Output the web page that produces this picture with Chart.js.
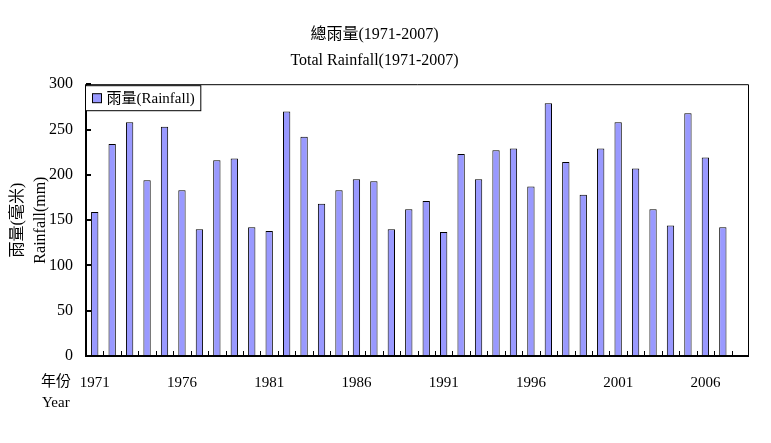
<!DOCTYPE html>
<html>
<head>
<meta charset="utf-8">
<script src="https://cdn.jsdelivr.net/npm/chart.js@4"></script>
<style>
  body { margin: 0; background: #fff; }
  #wrap { width: 771px; height: 443px; }
</style>
</head>
<body>
<div id="wrap"><canvas id="rainChart"></canvas></div>
<script>
// data (the axis keeps one empty slot after 2007)
var years = [];
for (var y = 1971; y <= 2007; y++) years.push(String(y));
years.push('');

var rainfall = [159, 234, 258, 194, 253, 183, 140, 216, 218, 142,
                138, 270, 242, 168, 183, 195, 193, 140, 162, 171,
                137, 223, 195, 227, 229, 187, 279, 214, 178, 229,
                258, 207, 162, 144, 268, 219, 142, null];

var yTicks = [0, 50, 100, 150, 200, 250, 300];
var seriesName = '雨量(Rainfall)';

var FONT = "'Liberation Serif', 'Noto Sans CJK TC', serif";

// frame, inner tick marks, legend box and the year label
var framePlugin = {
    id: 'frame',
    afterDraw: function (chart) {
        var ctx = chart.ctx;
        var a = chart.chartArea;
        var xs = chart.scales.x;
        var ys = chart.scales.y;
        ctx.save();
        ctx.strokeStyle = '#000';

        // top + right border
        ctx.lineWidth = 1;
        ctx.beginPath();
        ctx.moveTo(a.left, a.top + 0.5);
        ctx.lineTo(a.right - 0.5, a.top + 0.5);
        ctx.lineTo(a.right - 0.5, a.bottom);
        ctx.stroke();

        // axis lines
        ctx.lineWidth = 2;
        ctx.beginPath();
        ctx.moveTo(a.left, a.top);
        ctx.lineTo(a.left, a.bottom);
        ctx.lineTo(a.right, a.bottom);
        ctx.stroke();

        // y ticks pointing in
        yTicks.forEach(function (v) {
            var py = Math.round(ys.getPixelForValue(v));
            ctx.beginPath();
            ctx.moveTo(a.left, py);
            ctx.lineTo(a.left + 5, py);
            ctx.stroke();
        });

        // x ticks between categories pointing up
        ctx.lineWidth = 1;
        for (var i = 1; i < years.length; i++) {
            var px = Math.round((xs.getPixelForValue(i - 1) + xs.getPixelForValue(i)) / 2) + 0.5;
            ctx.beginPath();
            ctx.moveTo(px, a.bottom);
            ctx.lineTo(px, a.bottom - 5);
            ctx.stroke();
        }

        // legend
        var lx = a.left - 0.5, ly = a.top + 1.5;
        ctx.font = '15px ' + FONT;
        var tw = ctx.measureText(seriesName).width;
        ctx.fillStyle = '#fff';
        ctx.fillRect(lx, ly, tw + 27, 25);
        ctx.lineWidth = 1;
        ctx.strokeRect(lx, ly, tw + 27, 25);
        ctx.fillStyle = '#9999ff';
        ctx.fillRect(lx + 7, ly + 8, 9, 9);
        ctx.strokeRect(lx + 7, ly + 8, 9, 9);
        ctx.fillStyle = '#000';
        ctx.textAlign = 'left';
        ctx.textBaseline = 'middle';
        ctx.fillText(seriesName, lx + 21, ly + 13);

        // 年份 / Year
        ctx.fillText('年份', 41, 382);
        ctx.fillText('Year', 42, 403);
        ctx.restore();
    }
};

var ctx = document.getElementById('rainChart').getContext('2d');
new Chart(ctx, {
    type: 'bar',
    data: {
        labels: years,
        datasets: [{
            label: seriesName,
            data: rainfall,
            backgroundColor: '#9999ff',
            borderColor: '#000',
            borderWidth: 1,
            categoryPercentage: 1,
            barPercentage: 0.42
        }]
    },
    options: {
        responsive: true,
        maintainAspectRatio: false,
        devicePixelRatio: 1,
        animation: false,
        layout: { padding: { left: 0, right: 22, bottom: 0 } },
        scales: {
            x: {
                grid: { display: false, drawTicks: false },
                border: { display: false },
                ticks: {
                    autoSkip: false,
                    maxRotation: 0,
                    padding: 18,
                    color: '#000',
                    font: { family: FONT, size: 15 },
                    callback: function (val, idx) {
                        return idx % 5 === 0 ? years[idx] : '';
                    }
                },
                afterFit: function (s) { s.height = 87; }
            },
            y: {
                min: 0,
                max: 300,
                grid: { display: false, drawTicks: false },
                border: { display: false },
                afterBuildTicks: function (s) {
                    s.ticks = yTicks.map(function (v) { return { value: v }; });
                },
                ticks: {
                    padding: 13,
                    color: '#000',
                    font: { family: FONT, size: 16 }
                },
                title: {
                    display: true,
                    text: ['雨量(毫米)', 'Rainfall(mm)'],
                    color: '#000',
                    font: { family: FONT, size: 16, lineHeight: 1.45 },
                    padding: { top: 6, bottom: 0 }
                },
                afterFit: function (s) { s.width = 86; }
            }
        },
        plugins: {
            title: {
                display: true,
                text: ['總雨量(1971-2007)', 'Total Rainfall(1971-2007)'],
                color: '#000',
                font: { family: FONT, size: 16, weight: 'normal', lineHeight: 1.6 },
                padding: { top: 22, bottom: 11 }
            },
            legend: { display: false },
            tooltip: { enabled: false }
        }
    },
    plugins: [framePlugin]
});
</script>
</body>
</html>
